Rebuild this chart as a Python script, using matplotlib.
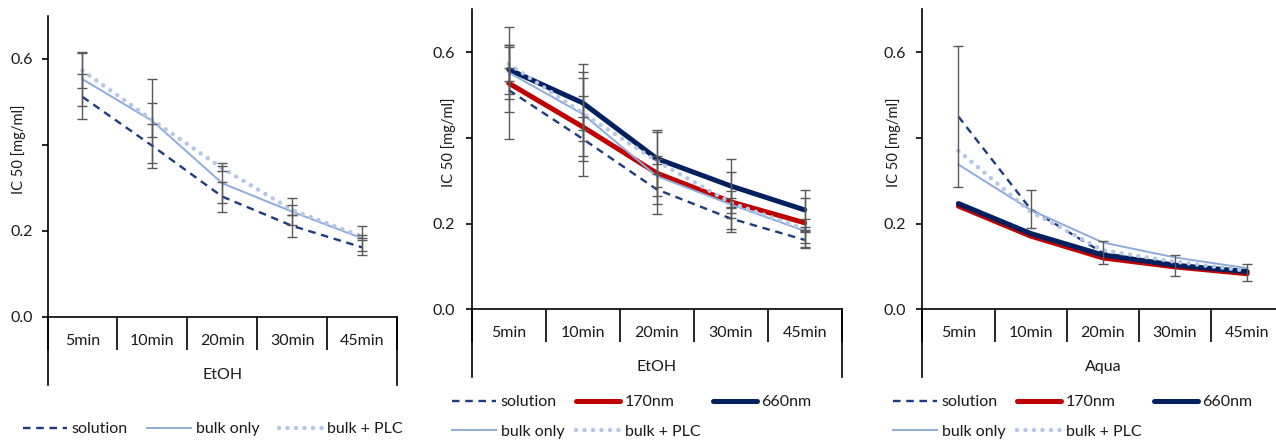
import matplotlib
matplotlib.use("Agg")
import matplotlib.pyplot as plt
from matplotlib.lines import Line2D

plt.rcParams['font.family'] = ['Lato', 'DejaVu Sans']

categories = ['5min', '10min', '20min', '30min', '45min']
ytick_values = [0.0, 0.2, 0.4, 0.6]
ytick_labels = ['0.0', '0.2', '', '0.6']

# EtOH
etoh_solution = [0.512, 0.398, 0.280, 0.212, 0.162]
etoh_solution_err = [0.052, 0.052, 0.035, 0.025, 0.018]
etoh_bulk = [0.553, 0.456, 0.311, 0.245, 0.183]
etoh_bulk_err = [0.063, 0.097, 0.046, 0.032, 0.029]
etoh_plc = [0.573, 0.458, 0.346, 0.249, 0.187]
etoh_plc_err = [0.040, 0.040, 0.006, 0.011, 0.004]
etoh_170 = [0.528, 0.426, 0.318, 0.251, 0.202]
etoh_170_err = [0.130, 0.115, 0.095, 0.070, 0.057]
etoh_660 = [0.560, 0.482, 0.352, 0.288, 0.232]
etoh_660_err = [0.057, 0.090, 0.067, 0.062, 0.047]

# Aqua
aqua_solution = [0.450, 0.234, 0.132, 0.102, 0.085]
aqua_solution_err = [0.165, 0.044, 0.027, 0.025, 0.020]
aqua_bulk = [0.338, 0.232, 0.156, 0.121, 0.096]
aqua_plc = [0.370, 0.228, 0.138, 0.111, 0.090]
aqua_170 = [0.241, 0.171, 0.120, 0.099, 0.083]
aqua_660 = [0.247, 0.177, 0.127, 0.103, 0.088]

C_SOL = '#1F3B7E'
C_BULK = '#8FAADC'
C_PLC = '#B4C7E7'
C_170 = '#C00000'
C_660 = '#002060'
C_ERR = '#595959'
C_TXT = '#1a1a1a'
FS = 11.5

W, H = 1276, 442
fig = plt.figure(figsize=(W / 100, H / 100), dpi=100)


def px_axes(left, right, top, bottom):
    return fig.add_axes([left / W, (H - bottom) / H, (right - left) / W, (bottom - top) / H])


styles = {
    'solution': dict(color=C_SOL, lw=1.7, ls=(0, (3.2, 2.4))),
    'bulk only': dict(color=C_BULK, lw=1.4, ls='-'),
    'bulk + PLC': dict(color=C_PLC, lw=3.2, ls=(0, (0.01, 1.9)), dash_capstyle='round'),
    '170nm': dict(color=C_170, lw=3.6, ls='-', solid_capstyle='round'),
    '660nm': dict(color=C_660, lw=3.6, ls='-', solid_capstyle='round'),
}


def setup(ax, group, ax_w_px, ax_h_px, ylabel_right_px, ypad):
    n = len(categories)
    ax.set_xlim(-0.5, n - 0.5)
    ax.set_ylim(0, 0.7)
    for s in ['top', 'right']:
        ax.spines[s].set_visible(False)
    for s in ['left', 'bottom']:
        ax.spines[s].set_linewidth(1.2)
        ax.spines[s].set_color('black')
    ax.set_yticks(ytick_values)
    ax.set_yticklabels(ytick_labels)
    ax.tick_params(axis='y', length=4, width=1.2, labelsize=FS, labelcolor=C_TXT, pad=ypad)
    # category boundaries as major ticks, labels as minor ticks
    ax.set_xticks([i - 0.5 for i in range(n + 1)])
    ax.set_xticklabels([])
    ax.tick_params(axis='x', which='major', length=24, width=1.2, direction='out')
    ax.set_xticks(list(range(n)), minor=True)
    ax.set_xticklabels(categories, minor=True)
    ax.tick_params(axis='x', which='minor', length=0, labelsize=FS, labelcolor=C_TXT, pad=12)
    # outer group lines
    tr = ax.get_xaxis_transform()
    d = 68 / ax_h_px
    for xx in (-0.5, n - 0.5):
        ax.plot([xx, xx], [0, -d], transform=tr, color='black', lw=1.2, clip_on=False)
    ax.text((n - 1) / 2, -58 / ax_h_px, group, transform=tr, ha='center', va='center',
            fontsize=FS, color=C_TXT)
    ax.set_ylabel('IC 50 [mg/ml]', fontsize=10.5, color=C_TXT)
    ax.yaxis.set_label_coords(ylabel_right_px / ax_w_px, 0.557)


def draw(ax, series, errs):
    x = list(range(len(categories)))
    for name, vals in series:
        ax.plot(x, vals, label=name, **styles[name])
    for vals, e in errs:
        ax.errorbar(x, vals, yerr=e, fmt='none', ecolor=C_ERR, elinewidth=1.0,
                    capsize=3.5, capthick=1.0)


# Panel 1
ax1 = px_axes(47.5, 397, 16, 317)
draw(ax1, [('solution', etoh_solution), ('bulk only', etoh_bulk), ('bulk + PLC', etoh_plc)],
     [(etoh_solution, etoh_solution_err), (etoh_bulk, etoh_bulk_err), (etoh_plc, etoh_plc_err)])
setup(ax1, 'EtOH', 349.5, 301, 26 - 47.5, 6.5)

# Panel 2
ax2 = px_axes(471.7, 841.7, 9.5, 309.3)
draw(ax2, [('solution', etoh_solution), ('170nm', etoh_170), ('660nm', etoh_660),
           ('bulk only', etoh_bulk), ('bulk + PLC', etoh_plc)],
     [(etoh_solution, etoh_solution_err), (etoh_bulk, etoh_bulk_err), (etoh_plc, etoh_plc_err),
      (etoh_170, etoh_170_err), (etoh_660, etoh_660_err)])
setup(ax2, 'EtOH', 370, 299.8, 456 - 471.7, 8)

# Panel 3
ax3 = px_axes(922.3, 1283.3, 9.5, 309.3)
draw(ax3, [('solution', aqua_solution), ('170nm', aqua_170), ('660nm', aqua_660),
           ('bulk only', aqua_bulk), ('bulk + PLC', aqua_plc)],
     [(aqua_solution, aqua_solution_err)])
setup(ax3, 'Aqua', 361, 299.8, 901 - 922.3, 8)


def handle(name):
    return Line2D([], [], **styles[name])


leg_kw = dict(frameon=False, fontsize=FS, handlelength=2.75, handletextpad=0.3,
              columnspacing=0.75, borderaxespad=0, borderpad=0, labelcolor=C_TXT)

names1 = ['solution', 'bulk only', 'bulk + PLC']
fig.legend([handle(n) for n in names1], names1, ncol=3, loc='center left',
           bbox_to_anchor=(23 / W, 1 - 429 / H), **dict(leg_kw, columnspacing=1.2))

order = ['solution', 'bulk only', '170nm', 'bulk + PLC', '660nm']
fig.legend([handle(n) for n in order], order, ncol=3, loc='upper left',
           bbox_to_anchor=(452 / W, 1 - 395 / H), labelspacing=0.95, **leg_kw)
fig.legend([handle(n) for n in order], order, ncol=3, loc='upper left',
           bbox_to_anchor=(893 / W, 1 - 395 / H), labelspacing=0.95, **leg_kw)

fig.savefig('out.png', dpi=100)
